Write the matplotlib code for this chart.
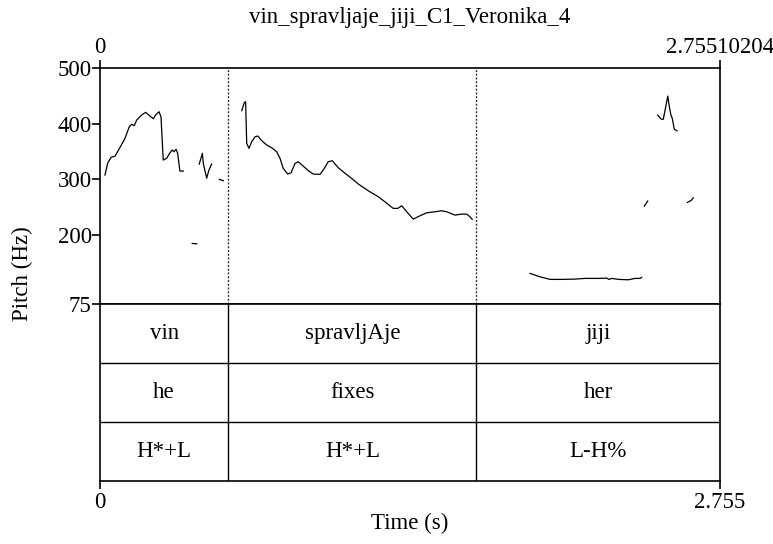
import numpy as np
import matplotlib
matplotlib.use('Agg')
import matplotlib.pyplot as plt

plt.rcParams['font.family'] = ['Liberation Serif', 'DejaVu Serif']

T_END = 2.75510204
TITLE = 'vin_spravljaje_jiji_C1_Veronika_4'

# interval boundaries (s) and tier labels
bounds = [0.0, 0.5697, 1.673, T_END]
tier_words = ['vin', 'spravljAje', 'jiji']
tier_gloss = ['he', 'fixes', 'her']
tier_tones = ['H*+L', 'H*+L', 'L-H%']

# pitch track pieces (time s, Hz)
seg1_t = [0.022, 0.034, 0.049, 0.067, 0.089, 0.111, 0.130, 0.141, 0.152, 0.163, 0.185, 0.203, 0.222,
          0.237, 0.247, 0.262, 0.271, 0.281, 0.296, 0.311, 0.321, 0.329, 0.338, 0.345, 0.355, 0.370]
seg1_f = [307.2, 328.3, 339.1, 341.4, 357.1, 373.3, 394.2, 398.6, 396.0, 406.3, 415.3, 420.2, 413.5,
          408.6, 415.3, 421.3, 412.3, 334.2, 337.3, 347.4, 352.3, 349.2, 353.6, 346.3, 314.4, 314.4]
seg2_t = [0.441, 0.455, 0.459, 0.474, 0.484, 0.496]
seg2_f = [327.0, 346.3, 328.3, 301.3, 316.2, 327.0]
seg3_t = [0.530, 0.548]
seg3_f = [299.5, 297.0]
seg4_t = [0.410, 0.430]
seg4_f = [184.0, 183.4]
seg5_t = [0.630, 0.641, 0.647, 0.652, 0.662, 0.674, 0.689, 0.701, 0.719, 0.741, 0.763, 0.785, 0.800,
          0.814, 0.834, 0.849, 0.867, 0.881, 0.903, 0.926, 0.948, 0.978, 0.997, 1.014, 1.032, 1.059,
          1.089, 1.118, 1.148, 1.192, 1.237, 1.266, 1.303, 1.323, 1.341, 1.363, 1.392, 1.422, 1.452,
          1.489, 1.518, 1.541, 1.577, 1.607, 1.630, 1.644, 1.654]
seg5_f = [423.1, 437.5, 439.3, 364.3, 355.3, 367.2, 376.2, 377.5, 369.0, 361.3, 356.4, 349.2, 337.3,
          319.3, 309.0, 311.4, 328.3, 331.2, 323.4, 315.0, 309.0, 308.5, 319.3, 331.2, 333.0, 320.4,
          310.3, 301.3, 291.0, 278.9, 268.1, 259.1, 247.2, 247.2, 251.9, 241.1, 227.9, 233.9, 239.3,
          241.1, 242.9, 241.1, 235.1, 236.9, 236.9, 232.1, 227.4]
seg6_t = [1.911, 1.955, 2.000, 2.052, 2.111, 2.155, 2.214, 2.252, 2.262, 2.274, 2.304, 2.348, 2.378,
          2.400, 2.407]
seg6_f = [130.1, 124.0, 119.3, 119.3, 119.8, 121.1, 121.1, 121.6, 119.3, 121.1, 119.3, 118.6, 121.1,
          121.1, 122.9]
seg7_t = [2.419, 2.434]
seg7_f = [251.4, 260.4]
seg8_t = [2.610, 2.622, 2.629, 2.636]
seg8_f = [258.0, 260.4, 262.2, 266.3]
seg9_t = [2.478, 2.493, 2.503, 2.514, 2.523, 2.530, 2.537, 2.543, 2.552, 2.564]
seg9_f = [415.3, 408.1, 407.6, 430.3, 449.5, 430.3, 415.3, 409.4, 389.5, 387.0]

segments = [(seg1_t, seg1_f), (seg2_t, seg2_f), (seg3_t, seg3_f), (seg4_t, seg4_f), (seg5_t, seg5_f),
            (seg6_t, seg6_f), (seg7_t, seg7_f), (seg8_t, seg8_f), (seg9_t, seg9_f)]

W, H = 773, 544
fig = plt.figure(figsize=(W / 100, H / 100), dpi=100)
x0, x1 = 100 / W, 720 / W
y_top, y_mid, y_bot = 1 - 68 / H, 1 - 304 / H, 1 - 481 / H
ax = fig.add_axes([x0, y_mid, x1 - x0, y_top - y_mid])
axt = fig.add_axes([x0, y_bot, x1 - x0, y_mid - y_bot])

FS = 16.5
LW = 1.2

# pitch panel
for t, f in segments:
    ax.plot(t, f, color='black', lw=0.9)
for b in bounds[1:-1]:
    ax.axvline(b, color='#333333', lw=1.0, ls=(0, (1.5, 1.2)))
ax.set_xlim(0, T_END)
ax.set_ylim(75, 500)
ax.set_yticks([500, 400, 300, 200, 75])
ax.set_yticklabels(['500', '400', '300', '200', '75'], fontsize=FS)
ax.tick_params(axis='y', direction='out', length=6, width=LW, pad=0)
ax.xaxis.tick_top()
ax.set_xticks([0, T_END])
ax.set_xticklabels(['0', '2.75510204'], fontsize=FS)
ax.tick_params(axis='x', direction='out', length=6, width=LW, pad=1)
for s in ax.spines.values():
    s.set_linewidth(LW)
fig.text((x0 + x1) / 2, 1 - 17 / H, TITLE, ha='center', va='center', fontsize=FS)

# tiers
axt.set_xlim(0, T_END)
axt.set_ylim(0, 3)
for y in [1, 2]:
    axt.axhline(y, color='black', lw=1.0)
for b in bounds[1:-1]:
    axt.axvline(b, color='black', lw=1.0)
for row, labels in enumerate([tier_words, tier_gloss, tier_tones]):
    yc = 2.5 - row
    for i, lab in enumerate(labels):
        xc = (bounds[i] + bounds[i + 1]) / 2
        axt.text(xc, yc, lab, ha='center', va='center', fontsize=FS)
axt.set_yticks([])
axt.set_xticks([0, T_END])
axt.set_xticklabels(['0', '2.755'], fontsize=FS)
axt.tick_params(axis='x', direction='out', length=6, width=LW, pad=2)
for s in axt.spines.values():
    s.set_linewidth(LW)
axt.set_xlabel('Time (s)', fontsize=FS, labelpad=0)

fig.text(22 / W, 1 - 274 / H, 'Pitch (Hz)', rotation=90, ha='center', va='center', fontsize=FS)

fig.savefig('out.png', dpi=100)
